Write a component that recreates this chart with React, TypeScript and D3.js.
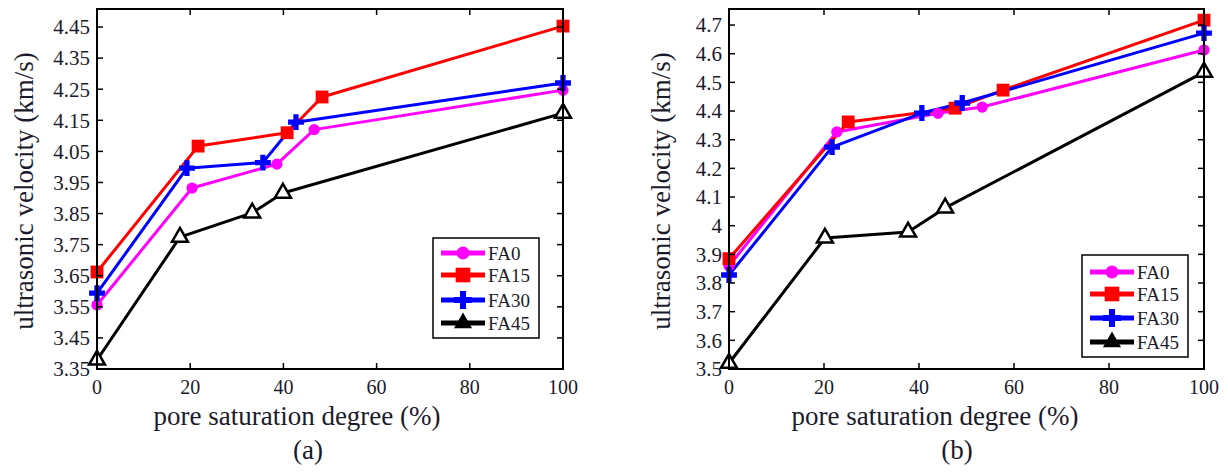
import React, { useEffect, useRef } from 'react';
import * as d3 from 'd3';

// (a) pore saturation (%) vs ultrasonic velocity (km/s)
const fa0SatA = [0, 20.4, 38.6, 46.6, 100];
const fa0VelA = [3.556, 3.932, 4.009, 4.12, 4.247];
const fa15SatA = [0, 21.7, 40.8, 48.3, 100];
const fa15VelA = [3.662, 4.067, 4.11, 4.225, 4.453];
const fa30SatA = [0, 19.3, 35.6, 42.7, 100];
const fa30VelA = [3.594, 3.996, 4.014, 4.144, 4.27];
const fa45SatA = [0, 17.8, 33.3, 39.9, 100];
const fa45VelA = [3.379, 3.774, 3.852, 3.916, 4.173];

// (b)
const fa0SatB = [0, 22.7, 44, 53.3, 100];
const fa0VelB = [3.86, 4.327, 4.392, 4.414, 4.613];
const fa15SatB = [0, 25.1, 47.6, 57.7, 100];
const fa15VelB = [3.885, 4.362, 4.41, 4.473, 4.717];
const fa30SatB = [0, 21.7, 40.6, 49.1, 100];
const fa30VelB = [3.828, 4.274, 4.393, 4.428, 4.672];
const fa45SatB = [0, 20.2, 37.7, 45.5, 100];
const fa45VelB = [3.52, 3.957, 3.978, 4.062, 4.536];

const seriesNames = ['FA0', 'FA15', 'FA30', 'FA45'];
const xTicks = [0, 20, 40, 60, 80, 100];
const yTicksA = [3.35, 3.45, 3.55, 3.65, 3.75, 3.85, 3.95, 4.05, 4.15, 4.25, 4.35, 4.45];
const yTicksB = [3.5, 3.6, 3.7, 3.8, 3.9, 4, 4.1, 4.2, 4.3, 4.4, 4.5, 4.6, 4.7];

const colors = ['#ff00ff', '#ff0000', '#0000ff', '#000000'];
const symbols = [d3.symbolCircle, d3.symbolSquare, d3.symbolCross, d3.symbolTriangle];
const symbolSizes = [100, 165, 140, 110];
const FONT = '"Liberation Serif", "Times New Roman", serif';
const TEXT = '#1b1b2b';

const zip = (xs: number[], ys: number[]) => xs.map((x, i) => ({ x, y: ys[i] }));

const panels = [
  {
    tag: '(a)',
    series: [zip(fa0SatA, fa0VelA), zip(fa15SatA, fa15VelA), zip(fa30SatA, fa30VelA), zip(fa45SatA, fa45VelA)],
    yTicks: yTicksA,
    yDomain: [3.35, 4.508],
    fmt: d3.format('.2f'),
    box: { left: 97, right: 563, top: 9, bottom: 369 },
    yLabelX: 33,
    xTitleX: 297,
    tagX: 308,
    legend: { x: 433, y: 238, w: 106, h: 100, rows: [253, 275, 300, 323] },
  },
  {
    tag: '(b)',
    series: [zip(fa0SatB, fa0VelB), zip(fa15SatB, fa15VelB), zip(fa30SatB, fa30VelB), zip(fa45SatB, fa45VelB)],
    yTicks: yTicksB,
    yDomain: [3.5, 4.756],
    fmt: (v: number) => String(+v.toFixed(2)),
    box: { left: 729, right: 1204, top: 9, bottom: 369 },
    yLabelX: 670,
    xTitleX: 935,
    tagX: 957,
    legend: { x: 1082, y: 255, w: 106, h: 102, rows: [272, 294, 318, 342] },
  },
];

function App() {
  const ref = useRef<SVGSVGElement>(null);

  useEffect(() => {
    const svg = d3.select(ref.current);
    svg.selectAll('*').remove();

    panels.forEach((p) => {
      const { left, right, top, bottom } = p.box;
      const x = d3.scaleLinear().domain([0, 100]).range([left, right]);
      const y = d3.scaleLinear().domain(p.yDomain).range([bottom, top]);
      const g = svg.append('g');

      // series lines + markers
      p.series.forEach((pts, i) => {
        const line = d3.line<{ x: number; y: number }>().x((d) => x(d.x)).y((d) => y(d.y));
        g.append('path')
          .datum(pts)
          .attr('d', line)
          .attr('fill', 'none')
          .attr('stroke', colors[i])
          .attr('stroke-width', 3)
          .attr('stroke-linejoin', 'round');
      });
      p.series.forEach((pts, i) => {
        const sym = d3.symbol().type(symbols[i]).size(symbolSizes[i]);
        g.selectAll(null)
          .data(pts)
          .enter()
          .append('path')
          .attr('d', sym)
          .attr('transform', (d) => `translate(${x(d.x)},${y(d.y)})`)
          .attr('fill', i === 3 ? '#fff' : colors[i])
          .attr('stroke', i === 3 ? '#000' : 'none')
          .attr('stroke-width', 2.5);
      });

      // frame
      g.append('rect')
        .attr('x', left)
        .attr('y', top)
        .attr('width', right - left)
        .attr('height', bottom - top)
        .attr('fill', 'none')
        .attr('stroke', '#000')
        .attr('stroke-width', 2);

      // x ticks (inward, top and bottom)
      xTicks.forEach((t) => {
        g.append('line').attr('x1', x(t)).attr('x2', x(t)).attr('y1', bottom).attr('y2', bottom - 6).attr('stroke', '#000').attr('stroke-width', 1.5);
        g.append('line').attr('x1', x(t)).attr('x2', x(t)).attr('y1', top).attr('y2', top + 6).attr('stroke', '#000').attr('stroke-width', 1.5);
        g.append('text')
          .attr('x', x(t))
          .attr('y', 394)
          .attr('text-anchor', 'middle')
          .attr('font-family', FONT)
          .attr('font-size', 20)
          .attr('fill', TEXT)
          .text(t);
      });

      // y ticks (inward, left and right)
      p.yTicks.forEach((t) => {
        g.append('line').attr('x1', left).attr('x2', left + 6).attr('y1', y(t)).attr('y2', y(t)).attr('stroke', '#000').attr('stroke-width', 1.5);
        g.append('line').attr('x1', right).attr('x2', right - 6).attr('y1', y(t)).attr('y2', y(t)).attr('stroke', '#000').attr('stroke-width', 1.5);
        g.append('text')
          .attr('x', left - 7)
          .attr('y', y(t))
          .attr('dy', '0.35em')
          .attr('text-anchor', 'end')
          .attr('font-family', FONT)
          .attr('font-size', 21)
          .attr('fill', TEXT)
          .text(p.fmt(t));
      });

      // titles
      g.append('text')
        .attr('transform', `translate(${p.yLabelX},191) rotate(-90)`)
        .attr('text-anchor', 'middle')
        .attr('font-family', FONT)
        .attr('font-size', 27)
        .attr('fill', TEXT)
        .text('ultrasonic velocity (km/s)');
      g.append('text')
        .attr('x', p.xTitleX)
        .attr('y', 425)
        .attr('text-anchor', 'middle')
        .attr('font-family', FONT)
        .attr('font-size', 27)
        .attr('fill', TEXT)
        .text('pore saturation degree (%)');
      g.append('text')
        .attr('x', p.tagX)
        .attr('y', 459)
        .attr('text-anchor', 'middle')
        .attr('font-family', FONT)
        .attr('font-size', 27)
        .attr('fill', TEXT)
        .text(p.tag);

      // legend
      const lg = p.legend;
      g.append('rect')
        .attr('x', lg.x)
        .attr('y', lg.y)
        .attr('width', lg.w)
        .attr('height', lg.h)
        .attr('fill', '#fff')
        .attr('stroke', '#000')
        .attr('stroke-width', 1.5);
      seriesNames.forEach((name, i) => {
        const ry = lg.rows[i];
        const x0 = lg.x + 8;
        const x1 = lg.x + 52;
        g.append('line').attr('x1', x0).attr('x2', x1).attr('y1', ry).attr('y2', ry).attr('stroke', colors[i]).attr('stroke-width', 5);
        g.append('path')
          .attr('d', d3.symbol().type(symbols[i]).size(symbolSizes[i] * 1.3)())
          .attr('transform', `translate(${(x0 + x1) / 2},${ry})`)
          .attr('fill', colors[i]);
        g.append('text')
          .attr('x', x1 + 3)
          .attr('y', ry)
          .attr('dy', '0.35em')
          .attr('font-family', FONT)
          .attr('font-size', 19)
          .attr('fill', TEXT)
          .text(name);
      });
    });
  }, []);

  return (
    <svg
      ref={ref}
      width={1228}
      height={474}
      style={{ position: 'absolute', left: 0, top: 0, background: '#fff' }}
    />
  );
}

export default App;
